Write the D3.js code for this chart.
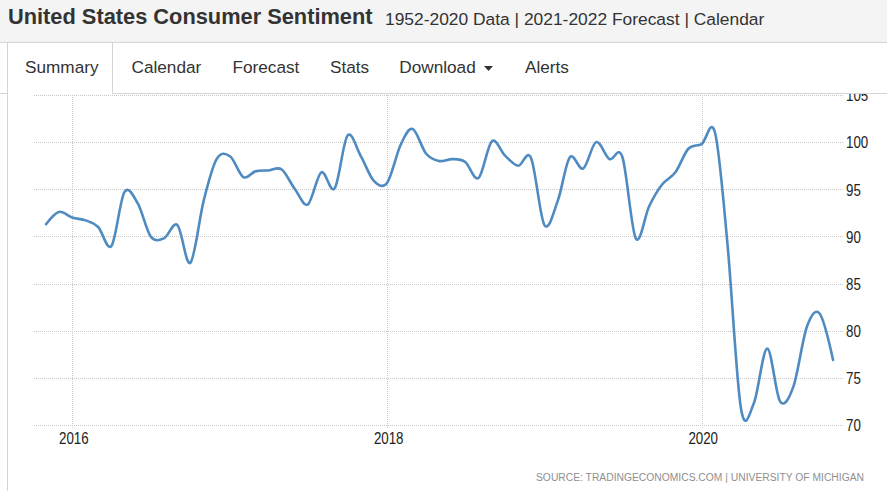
<!DOCTYPE html>
<html>
<head>
<meta charset="utf-8">
<script src="https://cdn.jsdelivr.net/npm/d3@7"></script>
<style>
  html, body { margin: 0; padding: 0; background: #fff; }
  svg { display: block; }
</style>
</head>
<body>
<svg id="chart" width="887" height="491"></svg>
<script>
// ---------------- data ----------------
const title = "United States Consumer Sentiment";
const subtitle = "1952-2020 Data | 2021-2022 Forecast | Calendar";
const tabs = ["Summary", "Calendar", "Forecast", "Stats", "Download", "Alerts"];
const sourceText = "SOURCE: TRADINGECONOMICS.COM | UNIVERSITY OF MICHIGAN";

const months = [
  "2015-11","2015-12",
  "2016-01","2016-02","2016-03","2016-04","2016-05","2016-06","2016-07","2016-08","2016-09","2016-10","2016-11","2016-12",
  "2017-01","2017-02","2017-03","2017-04","2017-05","2017-06","2017-07","2017-08","2017-09","2017-10","2017-11","2017-12",
  "2018-01","2018-02","2018-03","2018-04","2018-05","2018-06","2018-07","2018-08","2018-09","2018-10","2018-11","2018-12",
  "2019-01","2019-02","2019-03","2019-04","2019-05","2019-06","2019-07","2019-08","2019-09","2019-10","2019-11","2019-12",
  "2020-01","2020-02","2020-03","2020-04","2020-05","2020-06","2020-07","2020-08","2020-09","2020-10","2020-11"
];
const sentiment = [
  91.3, 92.6,
  92.0, 91.7, 91.0, 89.0, 94.7, 93.5, 90.0, 89.8, 91.2, 87.2, 93.8, 98.2,
  98.5, 96.3, 96.9, 97.0, 97.1, 95.0, 93.4, 96.8, 95.1, 100.7, 98.5, 95.9,
  95.7, 99.7, 101.4, 98.8, 98.0, 98.2, 97.9, 96.2, 100.1, 98.6, 97.5, 98.3,
  91.2, 93.8, 98.4, 97.2, 100.0, 98.2, 98.4, 89.8, 93.2, 95.5, 96.8, 99.3,
  99.8, 101.0, 89.1, 71.8, 72.3, 78.1, 72.5, 74.1, 80.4, 81.8, 76.9
];
const yTicks = [70, 75, 80, 85, 90, 95, 100, 105];
const xTickYears = ["2016", "2018", "2020"];

// ---------------- drawing ----------------
const svg = d3.select("#chart");
const W = 887, H = 491;
const lineCol = "#d5d5d5";

// header band
svg.append("rect").attr("x", 0).attr("y", 0).attr("width", W).attr("height", 42).attr("fill", "#f4f4f4");
svg.append("line").attr("x1", 0).attr("x2", W).attr("y1", 42.5).attr("y2", 42.5).attr("stroke", lineCol);

svg.append("text").attr("x", 8).attr("y", 24)
  .attr("font-family", "'Liberation Sans', Arial, sans-serif")
  .attr("font-weight", "bold").attr("font-size", 21.8).attr("fill", "#333")
  .text(title);
svg.append("text").attr("x", 385).attr("y", 24.5)
  .attr("font-family", "'Liberation Sans', Arial, sans-serif")
  .attr("font-size", 17.4).attr("fill", "#333")
  .text(subtitle);

// tab strip
const g0 = svg.append("g").attr("stroke", lineCol).attr("fill", "none");
g0.append("line").attr("x1", 7.5).attr("x2", 7.5).attr("y1", 42.5).attr("y2", H);
g0.append("line").attr("x1", 112.5).attr("x2", 112.5).attr("y1", 42.5).attr("y2", 93.5);
g0.append("line").attr("x1", 0).attr("x2", 7.5).attr("y1", 93.5).attr("y2", 93.5);
g0.append("line").attr("x1", 112.5).attr("x2", W).attr("y1", 93.5).attr("y2", 93.5);

const tabX = [25, 131.5, 232.5, 330, 399.3, 525];
svg.append("g").selectAll("text").data(tabs).join("text")
  .attr("x", (d, i) => tabX[i]).attr("y", 73)
  .attr("font-family", "'Liberation Sans', Arial, sans-serif")
  .attr("font-size", 17.2).attr("fill", "#333")
  .text(d => d);
// caret for Download
svg.append("path").attr("d", "M484,66 L493,66 L488.5,71 Z").attr("fill", "#333");

// chart area
const defs = svg.append("defs");
defs.append("clipPath").attr("id", "plotclip")
  .append("rect").attr("x", 8).attr("y", 94).attr("width", W - 8).attr("height", H - 94);

const chart = svg.append("g").attr("clip-path", "url(#plotclip)");

const parse = d3.timeParse("%Y-%m");
const dates = months.map(parse);
const data = dates.map((d, i) => ({ date: d, value: sentiment[i] }));

const x = d3.scaleTime()
  .domain([new Date(2016, 0, 1), new Date(2020, 0, 1)])
  .range([72.3, 701.7]);
const y = d3.scaleLinear().domain([70, 105]).range([425, 95]);

const gridLeft = 34, gridRight = 843;

// horizontal grid
chart.append("g").selectAll("line").data(yTicks).join("line")
  .attr("x1", gridLeft).attr("x2", gridRight)
  .attr("y1", d => Math.round(y(d)) + 0.5).attr("y2", d => Math.round(y(d)) + 0.5)
  .attr("stroke", "#c8c8c8").attr("stroke-width", 1).attr("stroke-dasharray", "1,1");

// vertical grid
const yearDates = xTickYears.map(s => d3.timeParse("%Y")(s));
chart.append("g").selectAll("line").data(yearDates).join("line")
  .attr("x1", d => Math.round(x(d)) + 0.5).attr("x2", d => Math.round(x(d)) + 0.5)
  .attr("y1", 95).attr("y2", 429)
  .attr("stroke", "#c8c8c8").attr("stroke-width", 1).attr("stroke-dasharray", "1,1");

const labelFont = "'Liberation Sans', Arial, sans-serif";
const digitW = 7.4;

// y axis labels (right)
const yAxis = d3.axisRight(y).tickValues(yTicks).tickSize(0).tickPadding(0);
const ya = chart.append("g").attr("transform", "translate(846,0)").call(yAxis);
ya.select(".domain").remove();
ya.selectAll("text")
  .attr("font-family", labelFont)
  .attr("font-size", 16).attr("fill", "#222").attr("dy", "0.36em")
  .attr("textLength", function () { return this.textContent.length * digitW; })
  .attr("lengthAdjust", "spacingAndGlyphs");

// x axis labels
const xAxis = d3.axisBottom(x).tickValues(yearDates).tickFormat(d3.timeFormat("%Y")).tickSize(0).tickPadding(0);
const xa = chart.append("g").attr("transform", "translate(1,432)").call(xAxis);
xa.select(".domain").remove();
xa.selectAll("text")
  .attr("font-family", labelFont)
  .attr("font-size", 16).attr("fill", "#222").attr("dy", "0.78em")
  .attr("textLength", function () { return this.textContent.length * digitW; })
  .attr("lengthAdjust", "spacingAndGlyphs");

// line
const line = d3.line()
  .x(d => x(d.date))
  .y(d => y(d.value))
  .curve(d3.curveCardinal.tension(0));
chart.append("path").datum(data)
  .attr("d", line)
  .attr("fill", "none")
  .attr("stroke", "#4f8bc1")
  .attr("stroke-width", 2.6)
  .attr("stroke-linejoin", "round")
  .attr("stroke-linecap", "round");

// source
svg.append("text").attr("x", 536).attr("y", 481)
  .attr("font-family", labelFont)
  .attr("font-size", 10).attr("fill", "#8f8f8f")
  .attr("textLength", 328).attr("lengthAdjust", "spacingAndGlyphs")
  .text(sourceText);
</script>
</body>
</html>
